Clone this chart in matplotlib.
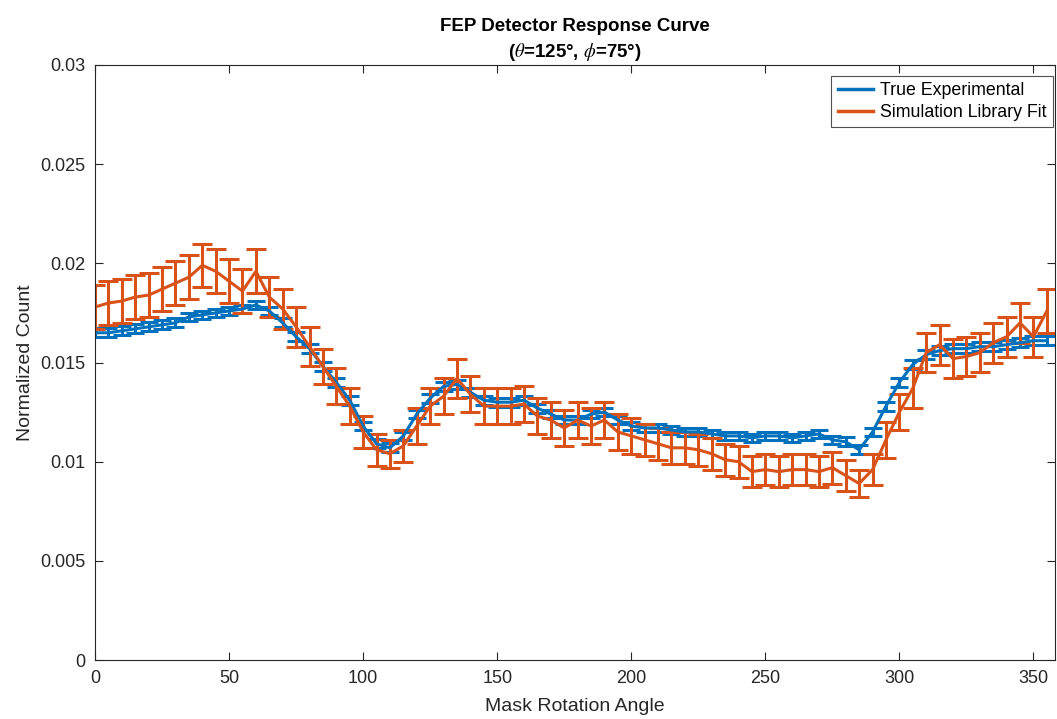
import numpy as np
import matplotlib.pyplot as plt
from matplotlib.lines import Line2D

plt.rcParams['font.family'] = ['Liberation Sans', 'DejaVu Sans']
plt.rcParams['mathtext.fontset'] = 'stix'

# mask rotation angle, every 5 degrees
angle = np.arange(0, 360, 5)

true_exp = [0.0165, 0.0165, 0.0166, 0.0167, 0.0168, 0.0169, 0.0170, 0.0173,
            0.0174, 0.0175, 0.0176, 0.0177, 0.0179, 0.0176, 0.0170, 0.0163,
            0.0157, 0.0148, 0.0140, 0.0131, 0.0118, 0.0109, 0.0107, 0.0113,
            0.0124, 0.0132, 0.0138, 0.0139, 0.0135, 0.0131, 0.0130, 0.0130,
            0.0131, 0.0127, 0.0124, 0.0121, 0.0121, 0.0124, 0.0125, 0.0121,
            0.0118, 0.0117, 0.0117, 0.0116, 0.0115, 0.0115, 0.0114, 0.0113,
            0.0113, 0.0112, 0.0113, 0.0113, 0.0112, 0.0113, 0.0114, 0.0111,
            0.0110, 0.0106, 0.0115, 0.0128, 0.0140, 0.0149, 0.0154, 0.0156,
            0.0157, 0.0157, 0.0158, 0.0158, 0.0159, 0.0160, 0.0161, 0.0161]
true_err = 0.00022

sim_fit = [0.0178, 0.0180, 0.0181, 0.0183, 0.0184, 0.0187, 0.0190, 0.0193,
           0.0199, 0.0196, 0.0191, 0.0186, 0.0196, 0.0183, 0.0177, 0.0168,
           0.0158, 0.0148, 0.0138, 0.0128, 0.0115, 0.0106, 0.0104, 0.0108,
           0.0118, 0.0128, 0.0133, 0.0142, 0.0134, 0.0128, 0.0128, 0.0128,
           0.0129, 0.0123, 0.0121, 0.0117, 0.0121, 0.0118, 0.0121, 0.0115,
           0.0113, 0.0111, 0.0109, 0.0107, 0.0107, 0.0106, 0.0104, 0.0101,
           0.0100, 0.0095, 0.0096, 0.0095, 0.0096, 0.0096, 0.0095, 0.0097,
           0.0093, 0.0089, 0.0096, 0.0111, 0.0125, 0.0137, 0.0155, 0.0159,
           0.0152, 0.0153, 0.0155, 0.0160, 0.0163, 0.0170, 0.0163, 0.0176]
sim_err = [0.0011, 0.0011, 0.0011, 0.0011, 0.0011, 0.0011, 0.0011, 0.0011,
           0.0011, 0.0011, 0.0011, 0.0011, 0.0011, 0.0010, 0.0010, 0.0010,
           0.0010, 0.0009, 0.0009, 0.0009, 0.0008, 0.0008, 0.0007, 0.0008,
           0.0009, 0.0009, 0.0009, 0.0010, 0.0009, 0.0009, 0.0009, 0.0009,
           0.0009, 0.0009, 0.0009, 0.0009, 0.0009, 0.0009, 0.0009, 0.0009,
           0.0009, 0.0008, 0.0008, 0.0008, 0.0008, 0.0008, 0.0008, 0.0008,
           0.0008, 0.0008, 0.0008, 0.0008, 0.0008, 0.0008, 0.0008, 0.0008,
           0.0008, 0.0007, 0.0008, 0.0009, 0.0009, 0.0010, 0.0010, 0.0010,
           0.0010, 0.0010, 0.0010, 0.0010, 0.0010, 0.0010, 0.0010, 0.0011]

blue = '#0072BD'
orange = '#D95319'

fig = plt.figure(figsize=(10.57, 7.19), dpi=100)
ax = fig.add_axes([0.0899, 0.082, 0.9081, 0.8276])

ax.errorbar(angle, true_exp, yerr=true_err, color=blue, lw=2.2,
            elinewidth=2.2, capsize=6.5, capthick=2.2)
ax.errorbar(angle, sim_fit, yerr=sim_err, color=orange, lw=2.2,
            elinewidth=2.2, capsize=7.5, capthick=2.2)

ax.set_xlim(0, 358)
ax.set_ylim(0, 0.03)
ax.set_xticks(np.arange(0, 351, 50))
ax.set_yticks(np.arange(0, 0.0301, 0.005))
ax.set_yticklabels(['0', '0.005', '0.01', '0.015', '0.02', '0.025', '0.03'])

axcol = '#262626'
for s in ax.spines.values():
    s.set_color(axcol)
    s.set_linewidth(0.8)
ax.tick_params(direction='in', top=True, right=True, length=6,
               width=0.8, colors=axcol, labelsize=13, pad=7)

ax.set_xlabel('Mask Rotation Angle', fontsize=14, color=axcol, labelpad=8)
ax.set_ylabel('Normalized Count', fontsize=14, color=axcol, labelpad=4)
ax.set_title('FEP Detector Response Curve\n' + r'($\theta$=125°, $\phi$=75°)',
             fontsize=13.5, fontweight='bold', color='black', pad=6,
             linespacing=1.35)

handles = [Line2D([], [], color=blue, lw=2.5),
           Line2D([], [], color=orange, lw=2.5)]
leg = ax.legend(handles, ['True Experimental', 'Simulation Library Fit'],
                loc='upper right', bbox_to_anchor=(0.998, 0.982),
                borderaxespad=0, fontsize=12.8, frameon=True, fancybox=False,
                handlelength=2.0, handletextpad=0.4, borderpad=0.35,
                labelspacing=0.3)
leg.get_frame().set_edgecolor(axcol)
leg.get_frame().set_linewidth(0.8)

fig.savefig('out.png', dpi=100)
